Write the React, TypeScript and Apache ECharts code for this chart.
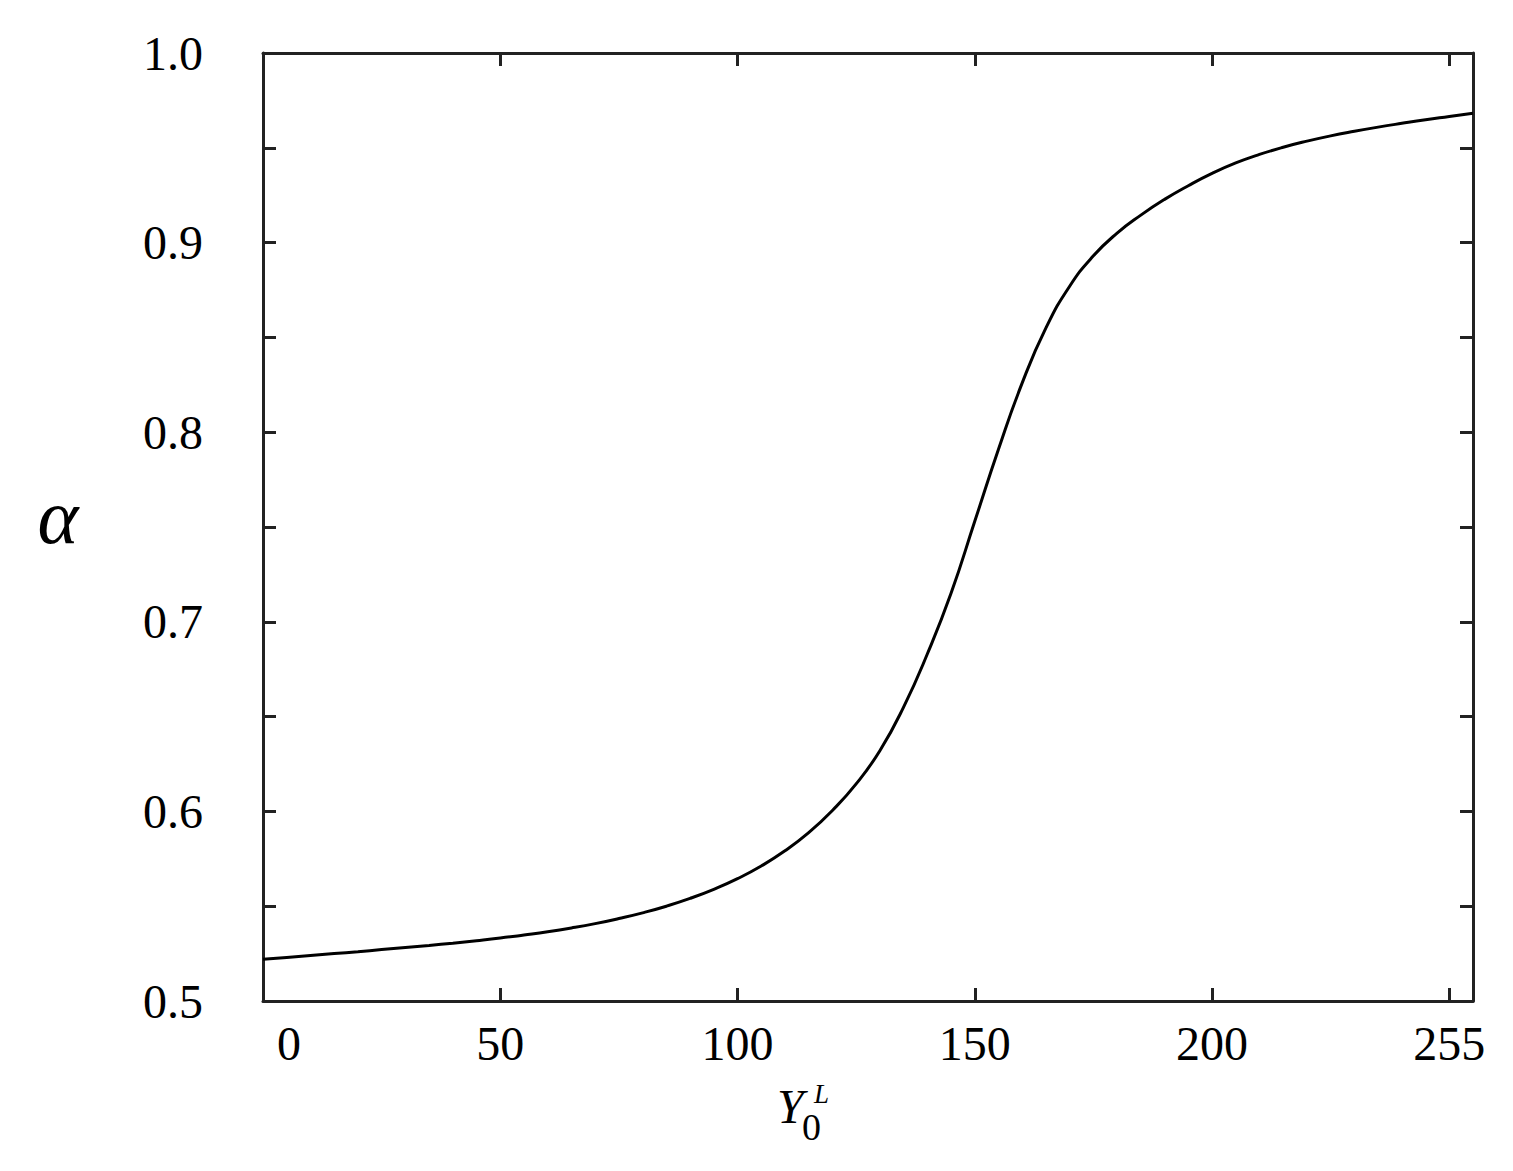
import React, { useEffect, useRef } from "react";
import * as echarts from "echarts";

// Data
const xValues = [0, 5, 10, 15, 20, 25, 30, 35, 40, 45, 50, 55, 60, 65, 70, 75, 80, 85, 90, 95, 100, 105, 110, 115, 120, 125, 130, 135, 140, 145, 150, 155, 160, 165, 170, 175, 180, 185, 190, 195, 200, 205, 210, 215, 220, 225, 230, 235, 240, 245, 250, 255];
const alphaValues = [0.522, 0.523, 0.524, 0.525, 0.526, 0.5271, 0.5282, 0.5293, 0.5305, 0.5318, 0.5332, 0.5348, 0.5365, 0.5385, 0.5408, 0.5435, 0.5465, 0.55, 0.5541, 0.5589, 0.5645, 0.5712, 0.5792, 0.5888, 0.6005, 0.6145, 0.632, 0.655, 0.683, 0.715, 0.753, 0.791, 0.826, 0.855, 0.877, 0.893, 0.905, 0.9145, 0.9228, 0.93, 0.9365, 0.942, 0.9465, 0.9503, 0.9535, 0.9563, 0.9587, 0.9609, 0.9629, 0.9648, 0.9665, 0.9682];
const xTickLabels: Record<number, string> = { 0: "0", 50: "50", 100: "100", 150: "150", 200: "200", 250: "255" };

const FONT = "'Liberation Serif', 'Times New Roman', serif";
const AXIS_COLOR = "#222";

export default function App() {
  const ref = useRef<HTMLDivElement>(null);
  useEffect(() => {
    if (!ref.current) return;
    const chart = echarts.init(ref.current, undefined, { renderer: "svg" });
    const data = xValues.map((x, i) => [x, alphaValues[i]]);
    const axisLine = () => ({ show: true, onZero: false, lineStyle: { color: AXIS_COLOR, width: 3 } });
    const axisTick = () => ({ show: true, inside: true, length: 13, lineStyle: { color: AXIS_COLOR, width: 3 } });
    chart.setOption({
      animation: false,
      backgroundColor: "#fff",
      grid: { left: 263, right: 40, top: 53, bottom: 170 },
      xAxis: [
        {
          type: "value",
          min: 0,
          max: 255,
          interval: 50,
          axisLine: axisLine(),
          axisTick: axisTick(),
          splitLine: { show: false },
          axisLabel: {
            fontFamily: FONT,
            fontSize: 48,
            color: "#000",
            margin: 18,
            showMaxLabel: false,
            formatter: (v: number) => {
              if (v === 0) return "{z|0}";
              return xTickLabels[v] ?? "";
            },
            rich: { z: { fontFamily: FONT, fontSize: 48, color: "#000", padding: [0, 0, 0, 52] } },
          },
        },
        {
          type: "value",
          position: "top",
          min: 0,
          max: 255,
          interval: 50,
          axisLine: axisLine(),
          axisTick: axisTick(),
          splitLine: { show: false },
          axisLabel: { show: false },
        },
      ],
      yAxis: [
        {
          type: "value",
          min: 0.5,
          max: 1.0,
          interval: 0.05,
          axisLine: axisLine(),
          axisTick: axisTick(),
          splitLine: { show: false },
          axisLabel: {
            fontFamily: FONT,
            fontSize: 48,
            color: "#000",
            margin: 60,
            formatter: (v: number) => (Math.round(v * 100) % 10 === 0 ? v.toFixed(1) : ""),
          },
        },
        {
          type: "value",
          position: "right",
          min: 0.5,
          max: 1.0,
          interval: 0.05,
          axisLine: axisLine(),
          axisTick: axisTick(),
          splitLine: { show: false },
          axisLabel: { show: false },
        },
      ],
      series: [
        {
          type: "line",
          data,
          smooth: true,
          showSymbol: false,
          lineStyle: { color: "#000", width: 3 },
          xAxisIndex: 0,
          yAxisIndex: 0,
        },
      ],
      graphic: [
        {
          type: "text",
          x: 58,
          y: 516,
          style: { text: "α", fontFamily: FONT, fontStyle: "italic", fontSize: 78, fill: "#000", textAlign: "center", textVerticalAlign: "middle" },
        },
        {
          type: "text",
          x: 777,
          y: 1106,
          style: { text: "Y", fontFamily: FONT, fontStyle: "italic", fontSize: 48, fill: "#000", textAlign: "left", textVerticalAlign: "middle" },
        },
        {
          type: "text",
          x: 802,
          y: 1127,
          style: { text: "0", fontFamily: FONT, fontSize: 38, fill: "#000", textAlign: "left", textVerticalAlign: "middle" },
        },
        {
          type: "text",
          x: 814,
          y: 1094,
          style: { text: "L", fontFamily: FONT, fontStyle: "italic", fontSize: 27, fill: "#000", textAlign: "left", textVerticalAlign: "middle" },
        },
      ],
    });
    return () => chart.dispose();
  }, []);
  return <div ref={ref} style={{ position: "fixed", left: 0, top: 0, width: 1513, height: 1171 }} />;
}
